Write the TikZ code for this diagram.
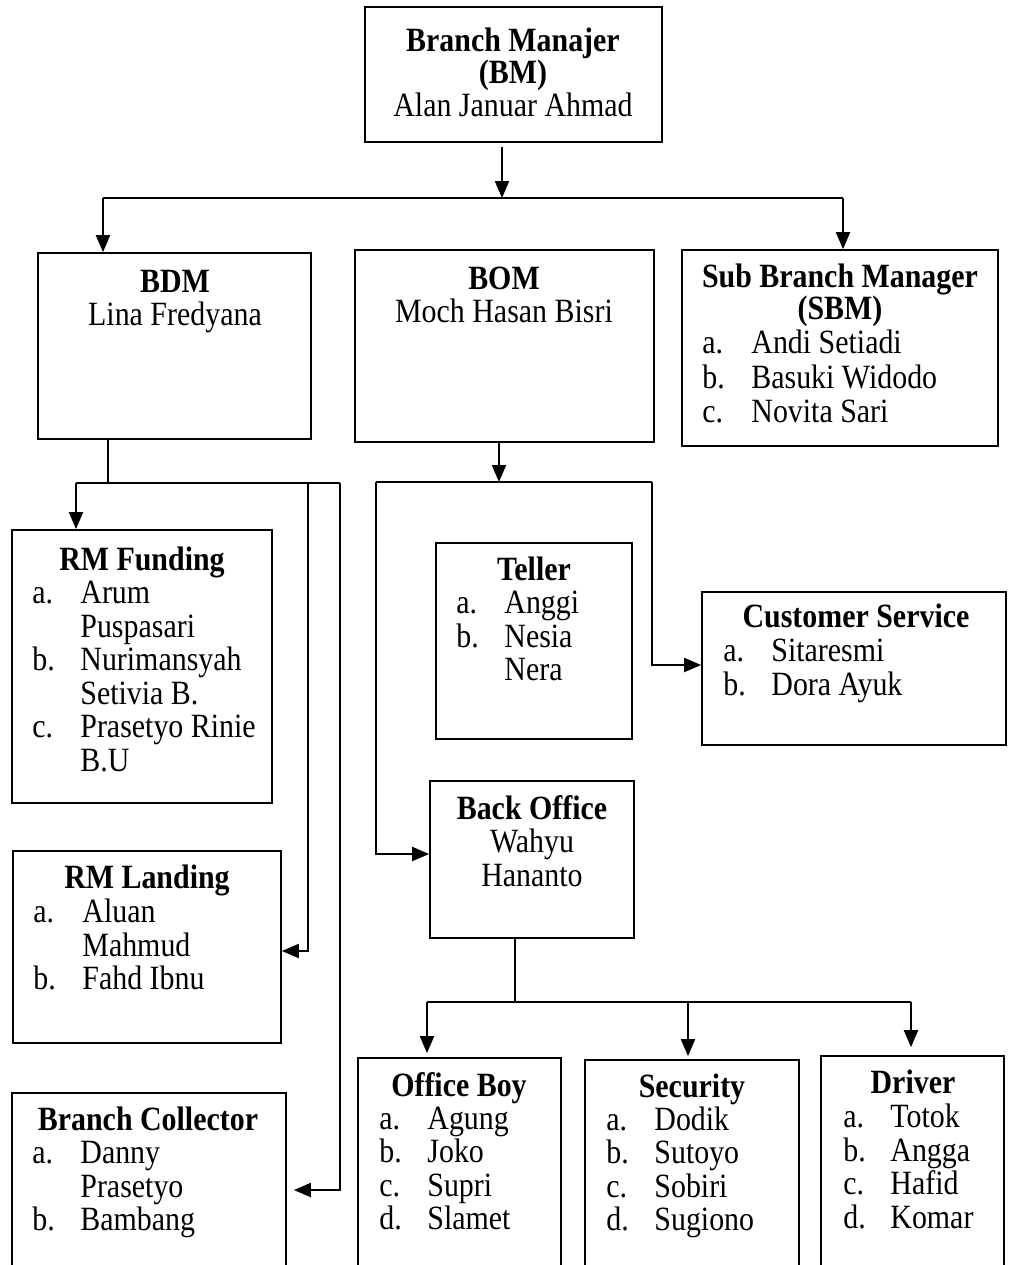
\documentclass[tikz,border=0pt]{standalone}
\usepackage{fontspec}
\setmainfont{Liberation Serif}[FakeStretch=0.88]
\usetikzlibrary{fit,arrows.meta}
\tikzset{
  box/.style={draw, line width=0.85pt, inner sep=0pt},
  conn/.style={line width=1pt},
  arr/.style={line width=1pt, -{Triangle[length=8.5pt,width=7pt]}},
  ttl/.style={anchor=base, font=\bfseries, inner sep=0pt},
  txt/.style={anchor=base, inner sep=0pt},
  itm/.style={anchor=base west, inner sep=0pt},
}
\newcommand\listitem[5]{% lblx, txtx, y, label, text
  \node[itm] at (#1,#3) {#4};\node[itm] at (#2,#3) {#5};}
\begin{document}
\fontsize{17}{19}\selectfont
\begin{tikzpicture}[x=0.5pt,y=-0.5pt]
\useasboundingbox (0,0) rectangle (1008,1265);
% boxes
\node[box, fit={(365,7)(662,142)}] (bm) {};
\node[box, fit={(38,253)(311,439)}] (bdm) {};
\node[box, fit={(355,250)(654,442)}] (bom) {};
\node[box, fit={(682,250)(998,446)}] (sbm) {};
\node[box, fit={(12,530)(272,803)}] (rmf) {};
\node[box, fit={(13,851)(281,1043)}] (rml) {};
\node[box, fit={(12,1093)(286,1275)}] (bc) {};
\node[box, fit={(436,543)(632,739)}] (tel) {};
\node[box, fit={(702,592)(1006,745)}] (cs) {};
\node[box, fit={(430,781)(634,938)}] (bo) {};
\node[box, fit={(358,1058)(561,1275)}] (ob) {};
\node[box, fit={(585,1060)(799,1275)}] (sec) {};
\node[box, fit={(821,1056)(1004,1275)}] (drv) {};
% texts
\node[ttl] at (513,51) {Branch Manajer};
\node[ttl] at (513,83) {(BM)};
\node[txt] at (513,116) {Alan Januar Ahmad};
\node[ttl] at (175,292) {BDM};
\node[txt] at (175,325) {Lina Fredyana};
\node[ttl] at (504,289) {BOM};
\node[txt] at (504,322) {Moch Hasan Bisri};
\node[ttl] at (840,287) {Sub Branch Manager};
\node[ttl] at (840,319) {(SBM)};
\listitem{702}{751}{353}{a.}{Andi Setiadi}
\listitem{702}{751}{388}{b.}{Basuki Widodo}
\listitem{702}{751}{422}{c.}{Novita Sari}
\node[ttl] at (142,570) {RM Funding};
\listitem{32}{80}{603.5}{a.}{Arum}
\listitem{32}{80}{637}{}{Puspasari}
\listitem{32}{80}{670.5}{b.}{Nurimansyah}
\listitem{32}{80}{704}{}{Setivia B.}
\listitem{32}{80}{737.5}{c.}{Prasetyo Rinie}
\listitem{32}{80}{771}{}{B.U}
\node[ttl] at (147,888) {RM Landing};
\listitem{33}{82}{922}{a.}{Aluan}
\listitem{33}{82}{956}{}{Mahmud}
\listitem{33}{82}{989}{b.}{Fahd Ibnu}
\node[ttl] at (148,1130) {Branch Collector};
\listitem{32}{80}{1163}{a.}{Danny}
\listitem{32}{80}{1197}{}{Prasetyo}
\listitem{32}{80}{1230}{b.}{Bambang}
\node[ttl] at (534,580) {Teller};
\listitem{456}{504}{613}{a.}{Anggi}
\listitem{456}{504}{647}{b.}{Nesia}
\listitem{456}{504}{680}{}{Nera}
\node[ttl] at (856,627) {Customer Service};
\listitem{723}{771}{661}{a.}{Sitaresmi}
\listitem{723}{771}{695}{b.}{Dora Ayuk}
\node[ttl] at (532,819) {Back Office};
\node[txt] at (532,852) {Wahyu};
\node[txt] at (532,886) {Hananto};
\node[ttl] at (459,1096) {Office Boy};
\listitem{379}{427}{1129}{a.}{Agung}
\listitem{379}{427}{1162}{b.}{Joko}
\listitem{379}{427}{1196}{c.}{Supri}
\listitem{379}{427}{1229}{d.}{Slamet}
\node[ttl] at (692,1097) {Security};
\listitem{606}{654}{1130}{a.}{Dodik}
\listitem{606}{654}{1163}{b.}{Sutoyo}
\listitem{606}{654}{1197}{c.}{Sobiri}
\listitem{606}{654}{1230}{d.}{Sugiono}
\node[ttl] at (913,1093) {Driver};
\listitem{843}{890}{1127}{a.}{Totok}
\listitem{843}{890}{1161}{b.}{Angga}
\listitem{843}{890}{1194}{c.}{Hafid}
\listitem{843}{890}{1228}{d.}{Komar}
% junction coordinates
\coordinate (bmo) at (502,147);
\coordinate (j1) at (502,198);
\coordinate (j1l) at (103,198);
\coordinate (j1r) at (843,198);
\coordinate (j2) at (108,483);
\coordinate (j2l) at (76,483);
\coordinate (j2a) at (308,483);
\coordinate (j2b) at (340,483);
\coordinate (j2ae) at (308,951);
\coordinate (j2be) at (340,1190);
\coordinate (j3) at (499,482);
\coordinate (j3l) at (376,482);
\coordinate (j3r) at (652,482);
\coordinate (j3le) at (376,854);
\coordinate (j3re) at (652,665);
\coordinate (j4) at (515,1002);
\coordinate (j4l) at (427,1002);
\coordinate (j4m) at (688,1002);
\coordinate (j4r) at (911,1002);
% connectors
\draw[arr] (bmo) -- (j1);
\draw[conn] (j1l) -- (j1r);
\draw[arr] (j1l) -- (j1l |- bdm.north);
\draw[arr] (j1r) -- (j1r |- sbm.north);
\draw[conn] (j2 |- bdm.south) -- (j2);
\draw[conn] (j2l) -- (j2b);
\draw[arr] (j2l) -- (j2l |- rmf.north);
\draw[arr] (j2a) -- (j2ae) -- (rml.east |- j2ae);
\draw[arr, shorten >=3.5pt] (j2b) -- (j2be) -- (bc.east |- j2be);
\draw[arr] (j3 |- bom.south) -- (j3);
\draw[conn] (j3l) -- (j3r);
\draw[arr] (j3l) -- (j3le) -- (bo.west |- j3le);
\draw[arr] (j3r) -- (j3re) -- (cs.west |- j3re);
\draw[conn] (j4 |- bo.south) -- (j4);
\draw[conn] (j4l) -- (j4r);
\draw[arr, shorten >=2pt] (j4l) -- (j4l |- ob.north);
\draw[arr, shorten >=1.5pt] (j4m) -- (j4m |- sec.north);
\draw[arr, shorten >=4pt] (j4r) -- (j4r |- drv.north);
\end{tikzpicture}
\end{document}
